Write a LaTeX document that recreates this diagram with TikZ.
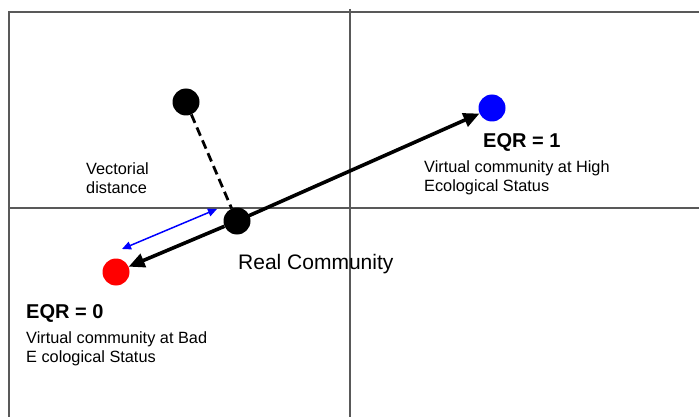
\documentclass[tikz,border=0pt]{standalone}
\usepackage{fontspec}
\setmainfont{Liberation Sans}
\usetikzlibrary{arrows.meta}
\tikzset{
  dot/.style={circle, fill, inner sep=0pt, minimum size=27pt},
  axis/.style={draw=black!65, line width=1.4pt},
  vec/.style={line width=3.6pt, -{Triangle[length=16pt, width=14pt]}},
  lbl/.style={anchor=north west, inner sep=0pt, align=left, font=\fontsize{16.3}{19.5}\selectfont},
  eqr/.style={anchor=north west, inner sep=0pt, font=\fontsize{20}{22}\selectfont\bfseries},
}
\begin{document}
\begin{tikzpicture}[x=1pt, y=-1pt]
\useasboundingbox (0,0) rectangle (699,417);
\draw[axis] (9,417) -- (9,12) -- (699,12);
\draw[axis] (350,9) -- (350,417);
\draw[axis] (9,208) -- (699,208);
\node[dot] (top) at (186,102) {};
\node[dot] (real) at (237,221) {};
\node[dot, blue] (high) at (492,108) {};
\node[dot, red] (bad) at (116,272) {};
\draw[line width=2.8pt, dashed, dash pattern=on 9pt off 5pt] (top) -- (real);
\draw[vec] (real.center) -- (high);
\draw[vec] (real) -- (bad);
\coordinate (va) at (217,209);
\coordinate (vb) at (122,249);
\draw[blue, line width=1.5pt, {Triangle[length=9pt, width=8pt]}-{Triangle[length=9pt, width=8pt]}] (va) -- (vb);
\node[lbl] (vdist) at (86,162) {Vectorial\\distance};
\node[eqr] (eqrone) at (483,133.5) {EQR = 1};
\node[lbl] (highlbl) at (424,160) {Virtual community at High\\Ecological Status};
\node[anchor=north west, inner sep=0pt, font=\fontsize{21}{23}\selectfont] (reallbl) at (238,254) {Real Community};
\node[eqr] (eqrzero) at (26,304.5) {EQR = 0};
\node[lbl] (badlbl) at (26,331) {Virtual community at Bad\\E cological Status};
\end{tikzpicture}
\end{document}
